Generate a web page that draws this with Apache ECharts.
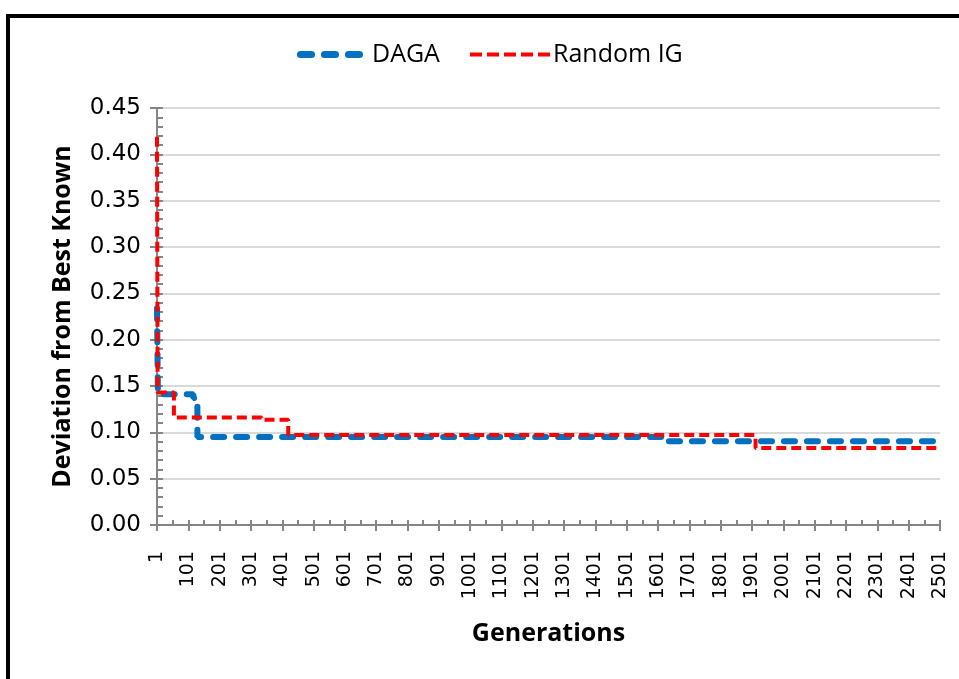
<!DOCTYPE html>
<html>
<head>
<meta charset="utf-8">
<script src="https://cdn.jsdelivr.net/npm/echarts@6/dist/echarts.min.js"></script>
<style>
html,body{margin:0;padding:0;background:#fff;}
#chart{width:959px;height:679px;}
</style>
</head>
<body>
<div id="chart"></div>
<script>
// Generation numbers on the category axis: 1 .. 2501
var firstGen = 1, lastGen = 2501;
var categories = [];
for (var g = firstGen; g <= lastGen; g++) categories.push(String(g));

// Step-change points (generation where a new value begins, and that value)
var dagaGen = [1, 4, 117, 130, 1630, 2501];
var dagaVal = [0.234, 0.141, 0.137, 0.095, 0.0905, 0.0905];

var randomGen = [1, 3, 55, 335, 420, 1912, 2501];
var randomVal = [0.419, 0.143, 0.116, 0.1135, 0.097, 0.083, 0.083];

var seriesNames = ['DAGA', 'Random IG'];
var yTicks = {min: 0, max: 0.45, step: 0.05};

function pairs(gens, vals) {
  return gens.map(function (g, i) { return [String(g), vals[i]]; });
}

var labelFont = 'DejaVu Sans';
var titleFont = "'Open Sans', sans-serif";
var axisGrey = '#868686';

var blueIcon = 'path://M3.5,0h11a3.5,3.5 0 0 1 0,7h-11a3.5,3.5 0 0 1 0,-7z' +
  'M27.5,0h11a3.5,3.5 0 0 1 0,7h-11a3.5,3.5 0 0 1 0,-7z' +
  'M51.5,0h11a3.5,3.5 0 0 1 0,7h-11a3.5,3.5 0 0 1 0,-7z';
var redIcon = 'path://M0,0h12v4h-12z M17,0h12v4h-12z M34,0h12v4h-12z M51,0h12v4h-12z M68,0h12v4h-12z';

var chart = echarts.init(document.getElementById('chart'), null, {renderer: 'canvas'});
chart.setOption({
  backgroundColor: '#fff',
  animation: false,
  graphic: [{
    type: 'rect', silent: true, z: 100,
    shape: {x: 8, y: 16, width: 1200, height: 1200},
    style: {fill: 'none', stroke: '#000', lineWidth: 4}
  }],
  legend: [{
    data: [{name: seriesNames[0], icon: blueIcon}], left: 292, top: 37,
    itemWidth: 66, itemHeight: 7,
    textStyle: {fontFamily: titleFont, fontSize: 25, color: '#000', padding: [0, 0, 0, 4]}
  }, {
    data: [{name: seriesNames[1], icon: redIcon}], left: 465, top: 37,
    itemWidth: 80, itemHeight: 4,
    textStyle: {fontFamily: titleFont, fontSize: 25, color: '#000', padding: [0, 0, 0, -2]}
  }],
  grid: {left: 157, right: 19, top: 108, bottom: 154, containLabel: false},
  xAxis: [{
    type: 'category', data: categories, boundaryGap: false,
    name: 'Generations', nameLocation: 'middle', nameGap: 96,
    nameTextStyle: {fontFamily: titleFont, fontSize: 25, fontWeight: 'bold', color: '#000'},
    axisLine: {lineStyle: {color: axisGrey, width: 2}},
    axisTick: {show: true, interval: 99, length: 6, lineStyle: {color: axisGrey, width: 2}},
    axisLabel: {interval: 99, rotate: 90, fontFamily: labelFont, fontSize: 19, color: '#000', margin: 26},
    splitLine: {show: false}
  }, {
    type: 'category', data: categories, boundaryGap: false, position: 'bottom',
    axisLine: {show: false},
    axisTick: {show: true, inside: true, interval: 49, length: 5, lineStyle: {color: axisGrey, width: 2}},
    axisLabel: {show: false}, splitLine: {show: false}
  }],
  yAxis: [{
    type: 'value', min: yTicks.min, max: yTicks.max, interval: yTicks.step,
    name: 'Deviation from Best Known', nameLocation: 'middle', nameGap: 82, nameRotate: 90,
    nameTextStyle: {fontFamily: titleFont, fontSize: 25, fontWeight: 'bold', color: '#000'},
    axisLine: {show: true, lineStyle: {color: axisGrey, width: 2}},
    axisTick: {show: true, length: 7, lineStyle: {color: axisGrey, width: 2}},
    axisLabel: {fontFamily: labelFont, fontSize: 23, color: '#000', margin: 16,
      formatter: function (v) { return v.toFixed(2); }},
    splitLine: {show: true, lineStyle: {color: '#d9d9d9', width: 2}}
  }, {
    type: 'value', min: yTicks.min, max: yTicks.max, interval: yTicks.step, position: 'left',
    axisLine: {show: false},
    axisTick: {show: true, inside: true, length: 6, lineStyle: {color: axisGrey, width: 2}},
    minorTick: {show: true, splitNumber: 5, length: 6, lineStyle: {color: axisGrey, width: 2}},
    axisLabel: {show: false}, splitLine: {show: false}
  }],
  series: [{
    name: seriesNames[0], type: 'line', step: 'end', symbol: 'none',
    data: pairs(dagaGen, dagaVal), z: 3,
    itemStyle: {color: '#0070c0'},
    lineStyle: {color: '#0070c0', width: 6, type: [11, 12], cap: 'round'}
  }, {
    name: seriesNames[1], type: 'line', step: 'end', symbol: 'none',
    data: pairs(randomGen, randomVal), z: 4,
    itemStyle: {color: '#ff0000'},
    lineStyle: {color: '#ff0000', width: 4, type: [10, 5]}
  }]
});
</script>
</body>
</html>
